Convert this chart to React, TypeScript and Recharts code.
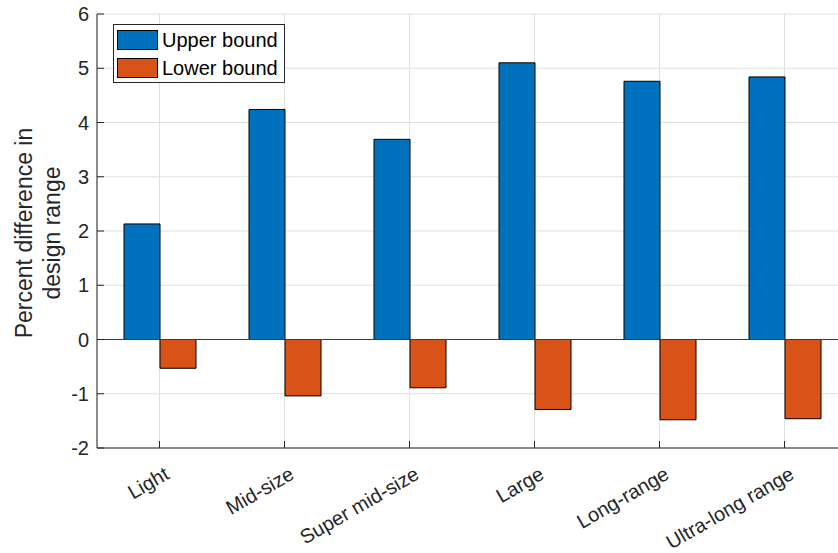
import React from "react";
import {
  BarChart,
  Bar,
  XAxis,
  YAxis,
  CartesianGrid,
  ReferenceLine,
  Legend,
} from "recharts";

const categories = [
  "Light",
  "Mid-size",
  "Super mid-size",
  "Large",
  "Long-range",
  "Ultra-long range",
];
const upperBound = [2.13, 4.24, 3.69, 5.1, 4.76, 4.84];
const lowerBound = [-0.53, -1.04, -0.89, -1.29, -1.48, -1.46];
const yTicks = [-2, -1, 0, 1, 2, 3, 4, 5, 6];
const seriesNames = ["Upper bound", "Lower bound"];

const data = categories.map((name, i) => ({
  name,
  upper: upperBound[i],
  lower: lowerBound[i],
}));

const FONT = '"Liberation Sans", Arial, Helvetica, sans-serif';
const INK = "#262626";
const BLUE = "#0072BD";
const ORANGE = "#D95319";

// ticks point inward, like a matlab axes box
const BottomTick = ({ x, y, payload }: any) => {
  const tx = x + 11;
  const ty = y + 30;
  return (
    <g>
      <line x1={x} y1={y} x2={x} y2={y - 7} stroke={INK} />
      <text
        x={tx}
        y={ty}
        textAnchor="end"
        transform={`rotate(-30, ${tx}, ${ty})`}
        fontSize={20}
        fill={INK}
        fontFamily={FONT}
      >
        {payload.value}
      </text>
    </g>
  );
};

const TopTick = ({ x, y }: any) => (
  <line x1={x} y1={y} x2={x} y2={y + 7} stroke={INK} />
);

const LeftTick = ({ x, y, payload }: any) => (
  <g>
    <line x1={x} y1={y} x2={x + 7} y2={y} stroke={INK} />
    <text
      x={x - 8}
      y={y}
      dy="0.35em"
      textAnchor="end"
      fontSize={20}
      fill={INK}
      fontFamily={FONT}
    >
      {payload.value}
    </text>
  </g>
);

const YLabel = ({ viewBox }: any) => {
  const cy = viewBox.y + viewBox.height / 2 + 2;
  return (
    <text
      transform={`translate(24, ${cy}) rotate(-90)`}
      textAnchor="middle"
      fontSize={23}
      fill={INK}
      fontFamily={FONT}
    >
      <tspan x={0} dy="0.35em">
        Percent difference in
      </tspan>
      <tspan x={0} dy={28}>
        design range
      </tspan>
    </text>
  );
};

const LegendBox = ({ payload }: any) => {
  // keep the series in plotting order
  const items = [...(payload || [])].sort(
    (a: any, b: any) => seriesNames.indexOf(a.value) - seriesNames.indexOf(b.value)
  );
  return (
    <div
      style={{
        border: `1px solid ${INK}`,
        background: "#fff",
        padding: "5px 3px 4px 3px",
        width: 164,
        fontFamily: FONT,
        fontSize: 20,
        color: "#000",
      }}
    >
      {items.map((p: any, i: number) => (
        <div
          key={p.value}
          style={{
            display: "flex",
            alignItems: "center",
            height: 20,
            marginTop: i === 0 ? 0 : 8,
          }}
        >
          <span
            style={{
              display: "inline-block",
              boxSizing: "border-box",
              width: 41,
              height: 20,
              background: p.color,
              border: "1px solid #000",
              marginRight: 4,
            }}
          />
          <span style={{ whiteSpace: "nowrap" }}>{p.value}</span>
        </div>
      ))}
    </div>
  );
};

export default function App() {
  return (
    <div
      style={{
        position: "absolute",
        left: 0,
        top: 0,
        width: 838,
        height: 553,
        overflow: "hidden",
        background: "#fff",
      }}
    >
      <BarChart
        width={860}
        height={553}
        data={data}
        margin={{ top: 14, right: 13, left: 0, bottom: 0 }}
        barGap={0}
      >
        <CartesianGrid stroke="#dfdfdf" strokeWidth={1} />
        <XAxis
          dataKey="name"
          height={105}
          interval={0}
          tickSize={0}
          tickMargin={0}
          tick={<BottomTick />}
          axisLine={{ stroke: INK }}
          tickLine={false}
        />
        <XAxis
          xAxisId="top"
          orientation="top"
          dataKey="name"
          height={0}
          interval={0}
          tickSize={0}
          tickMargin={0}
          tick={<TopTick />}
          axisLine={{ stroke: INK }}
          tickLine={false}
        />
        <YAxis
          width={97}
          domain={[-2, 6]}
          ticks={yTicks}
          interval={0}
          tickSize={0}
          tickMargin={0}
          tick={<LeftTick />}
          axisLine={{ stroke: INK }}
          tickLine={false}
          label={{ content: <YLabel /> }}
        />
        <Legend
          layout="horizontal"
          verticalAlign="middle"
          align="center"
          wrapperStyle={{ left: 113, top: 24, width: "auto", height: "auto" }}
          content={<LegendBox />}
        />
        <Bar
          dataKey="upper"
          name={seriesNames[0]}
          fill={BLUE}
          stroke="#000"
          strokeWidth={1}
          barSize={36}
          isAnimationActive={false}
        />
        <Bar
          dataKey="lower"
          name={seriesNames[1]}
          fill={ORANGE}
          stroke="#000"
          strokeWidth={1}
          barSize={36}
          isAnimationActive={false}
        />
        <ReferenceLine y={0} stroke="#3c3c3c" strokeWidth={1} />
      </BarChart>
    </div>
  );
}
